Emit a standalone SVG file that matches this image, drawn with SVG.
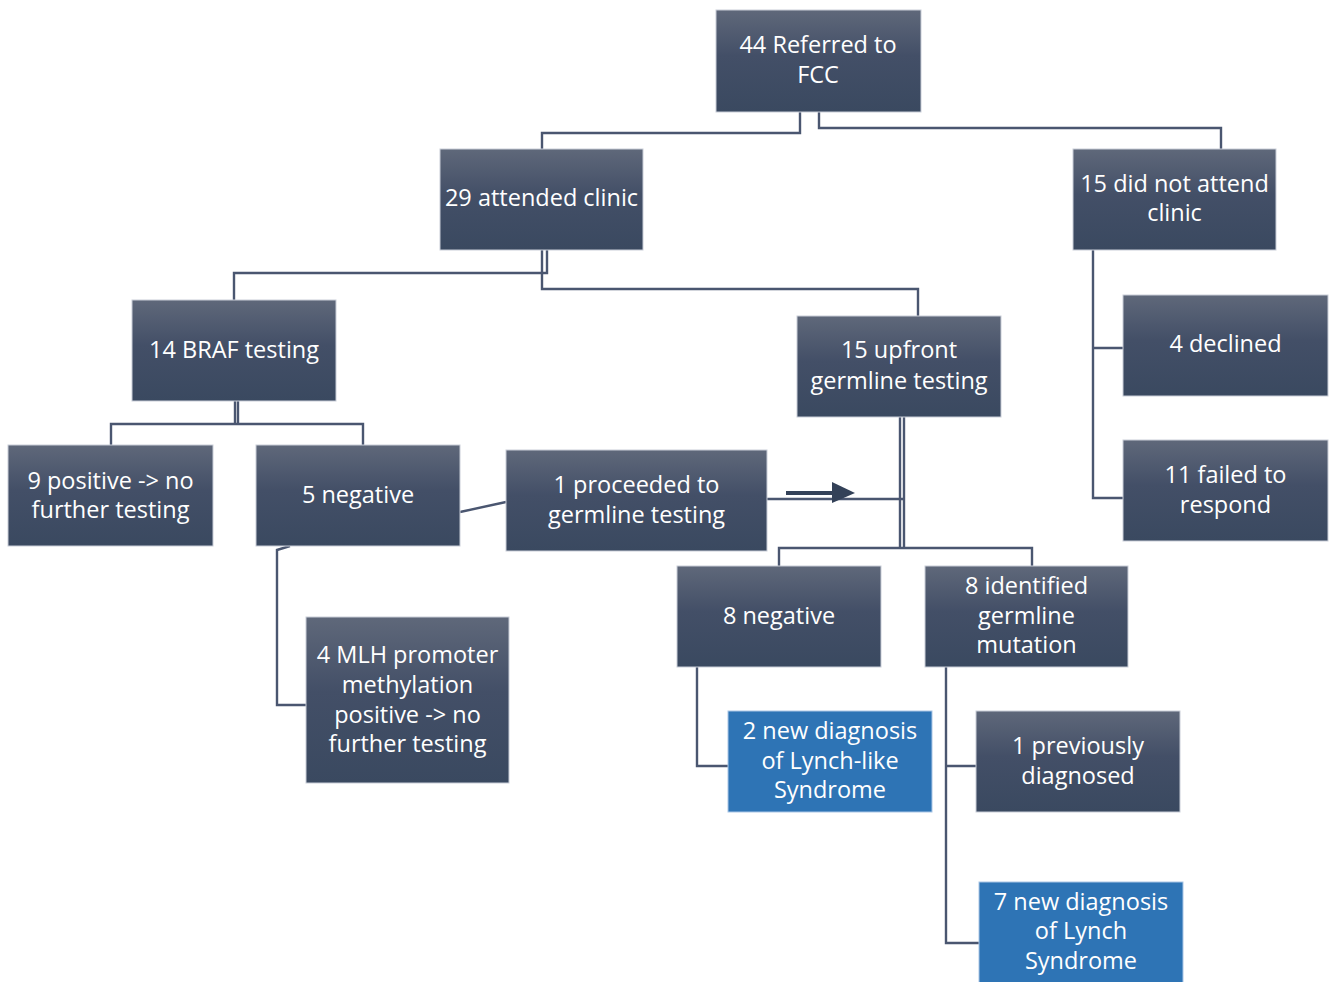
<svg xmlns="http://www.w3.org/2000/svg" width="1332" height="982" viewBox="0 0 1332 982">
<defs>
<linearGradient id="g" x1="0" y1="0" x2="0" y2="1">
<stop offset="0" stop-color="#5f687a"/>
<stop offset="0.45" stop-color="#434f67"/>
<stop offset="1" stop-color="#3a4960"/>
</linearGradient>
<style>
.box{fill:url(#g);stroke:#c9ced8;stroke-width:1}
.blue{fill:#2e74b5;stroke:#a9c6e6;stroke-width:1}
.t{font-family:"Open Sans","Liberation Sans",sans-serif;font-size:23.5px;fill:#ffffff;text-anchor:middle}
.c{fill:none;stroke:#4a5670;stroke-width:2.4}
</style>
</defs>
<rect width="1332" height="982" fill="#ffffff"/>
<g id="connectors">
<path class="c" d="M800,111 V133 H542 V149"/>
<path class="c" d="M819,111 V128 H1221 V149"/>
<path class="c" d="M547,250 V273 H234 V300"/>
<path class="c" d="M542,250 V289 H918 V316"/>
<path class="c" d="M235,401 V424 M238,401 V424 M111,445 V424 H363 V445"/>
<path class="c" d="M460,512 L506,502"/>
<path class="c" d="M767,499 H904"/>
<path class="c" d="M900,417 V548 M904,417 V548 M779,566 V548 H1032 V566"/>
<path class="c" d="M1093,250 V498 H1123 M1093,348 H1123"/>
<path class="c" d="M290,546 L277,550 V705 H306"/>
<path class="c" d="M697,667 V766 H728"/>
<path class="c" d="M946,667 V943 H979 M946,766 H976"/>
<path d="M786,493 H834" stroke="#334158" stroke-width="4" fill="none"/>
<polygon points="832,482 855,493 832,503" fill="#334158"/>
</g>
<g id="n1"><rect class="box" x="716" y="10" width="205" height="102"/><text class="t" x="818" y="53">44 Referred to</text><text class="t" x="818" y="83">FCC</text></g>
<g id="n2"><rect class="box" x="440" y="149" width="203" height="101"/><text class="t" x="541.5" y="206">29 attended clinic</text></g>
<g id="n3"><rect class="box" x="1073" y="149" width="203" height="101"/><text class="t" x="1174.5" y="192">15 did not attend</text><text class="t" x="1174.5" y="221">clinic</text></g>
<g id="n4"><rect class="box" x="132" y="300" width="204" height="101"/><text class="t" x="234" y="358">14 BRAF testing</text></g>
<g id="n5"><rect class="box" x="797" y="316" width="204" height="101"/><text class="t" x="899" y="358">15 upfront</text><text class="t" x="899" y="389">germline testing</text></g>
<g id="n6"><rect class="box" x="1123" y="295" width="205" height="101"/><text class="t" x="1225.5" y="352">4 declined</text></g>
<g id="n7"><rect class="box" x="1123" y="440" width="205" height="101"/><text class="t" x="1225.5" y="483">11 failed to</text><text class="t" x="1225.5" y="513">respond</text></g>
<g id="n8"><rect class="box" x="8" y="445" width="205" height="101"/><text class="t" x="110.5" y="489">9 positive -&gt; no</text><text class="t" x="110.5" y="518">further testing</text></g>
<g id="n9"><rect class="box" x="256" y="445" width="204" height="101"/><text class="t" x="358" y="503">5 negative</text></g>
<g id="n10"><rect class="box" x="506" y="450" width="261" height="101"/><text class="t" x="636.5" y="493">1 proceeded to</text><text class="t" x="636.5" y="523">germline testing</text></g>
<g id="n11"><rect class="box" x="677" y="566" width="204" height="101"/><text class="t" x="779" y="624">8 negative</text></g>
<g id="n12"><rect class="box" x="925" y="566" width="203" height="101"/><text class="t" x="1026.5" y="594">8 identified</text><text class="t" x="1026.5" y="624">germline</text><text class="t" x="1026.5" y="653">mutation</text></g>
<g id="n13"><rect class="box" x="306" y="617" width="203" height="166"/><text class="t" x="407.5" y="663">4 MLH promoter</text><text class="t" x="407.5" y="693">methylation</text><text class="t" x="407.5" y="723">positive -&gt; no</text><text class="t" x="407.5" y="752">further testing</text></g>
<g id="n14"><rect class="blue" x="728" y="711" width="204" height="101"/><text class="t" x="830" y="739">2 new diagnosis</text><text class="t" x="830" y="769">of Lynch-like</text><text class="t" x="830" y="798">Syndrome</text></g>
<g id="n15"><rect class="box" x="976" y="711" width="204" height="101"/><text class="t" x="1078" y="754">1 previously</text><text class="t" x="1078" y="784">diagnosed</text></g>
<g id="n16"><rect class="blue" x="979" y="882" width="204" height="105"/><text class="t" x="1081" y="910">7 new diagnosis</text><text class="t" x="1081" y="939">of Lynch</text><text class="t" x="1081" y="969">Syndrome</text></g>
</svg>
